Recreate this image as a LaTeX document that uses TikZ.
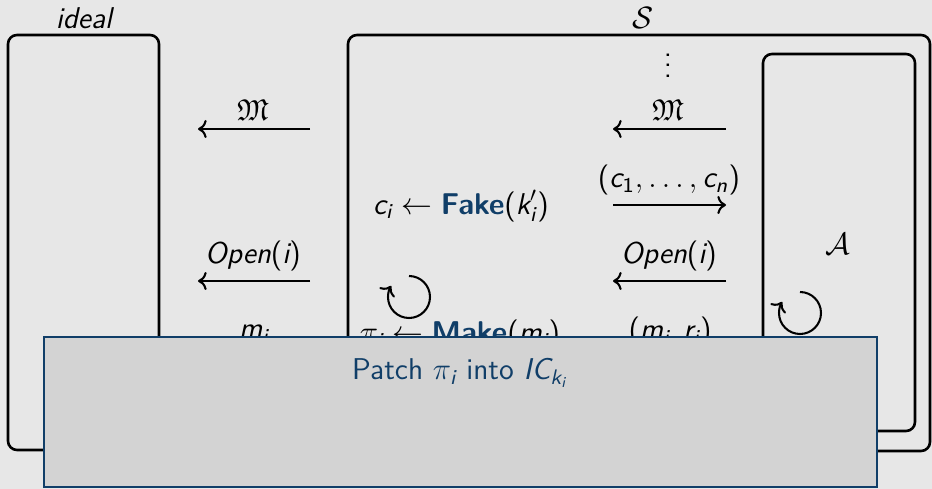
\documentclass[tikz,border=0pt]{standalone}
\usepackage{amsmath,amssymb}
\usetikzlibrary{arrows.meta,calc}
\definecolor{bgc}{RGB}{231,231,231}
\definecolor{ovlc}{RGB}{211,211,211}
\definecolor{navy}{RGB}{16,62,104}
\newcommand{\sv}[1]{\text{\sffamily\itshape #1}}
\newcommand{\su}[1]{\text{\sffamily #1}}
\newcommand{\kw}[1]{\text{\sffamily\bfseries\color{navy}#1}}
\tikzset{
  party/.style={draw=black, line width=1pt, rounded corners=3.5pt},
  msg/.style={draw=black, line width=0.8pt, ->},
  lbl/.style={inner sep=0pt, font=\fontsize{11.7}{14}\selectfont\sffamily},
  loopc/.style={draw=black, line width=0.8pt, ->},
  overlaybox/.style={fill=ovlc, draw=navy, line width=1pt},
}
\begin{document}
\begin{tikzpicture}[x=0.389pt,y=-0.389pt]
\fill[bgc] (0,0) rectangle (932,489);
\useasboundingbox (0,0) rectangle (932,489);
% boxes
\draw[party] (8,35) rectangle (159,450);
\draw[party] (348,35) rectangle (930,451);
\draw[party] (763,54) rectangle (915,431);
% titles
\node[lbl] (tideal) at (84,18) {\itshape ideal};
\node[lbl] (tS) at (643,18) {$\mathcal{S}$};
\node[lbl] (tA) at (838,244) {$\mathcal{A}$};
\node[lbl] (vd) at (668,58) {$\vdots$};
% left column arrows
\coordinate (l1s) at (310,129); \coordinate (l1e) at (198,129);
\draw[msg] (l1s) -- (l1e);
\node[lbl] (lM) at (253,110) {$\mathfrak{M}$};
\coordinate (l2s) at (310,281); \coordinate (l2e) at (198,281);
\draw[msg] (l2s) -- (l2e);
\node[lbl] (lOpen) at (253,256) {$\sv{Open}\su{(}\sv{i}\su{)}$};
\node[lbl] (lm) at (254,334) {$\sv{m}_{\sv{i}}$};
% right column arrows
\coordinate (r1s) at (726,129); \coordinate (r1e) at (613,129);
\draw[msg] (r1s) -- (r1e);
\node[lbl] (rM) at (668,110) {$\mathfrak{M}$};
\coordinate (r2s) at (613,205); \coordinate (r2e) at (726,205);
\draw[msg] (r2s) -- (r2e);
\node[lbl] (rc) at (669,180) {$\su{(}\sv{c}_{\su{1}},\ldots,\sv{c}_{\sv{n}}\su{)}$};
\coordinate (r3s) at (726,281); \coordinate (r3e) at (613,281);
\draw[msg] (r3s) -- (r3e);
\node[lbl] (rOpen) at (669,256) {$\sv{Open}\su{(}\sv{i}\su{)}$};
\node[lbl] (rmr) at (670,332) {$\su{(}\sv{m}_{\sv{i}},\sv{r}_{\sv{i}}\su{)}$};
% simulator computations
\node[lbl] (fake) at (461,206) {$\sv{c}_{\sv{i}}\leftarrow\kw{Fake}\su{(}\sv{k}'_{\sv{i}}\su{)}$};
\node[lbl] (make) at (460,335) {$\pi_{\sv{i}}\leftarrow\kw{Make}\su{(}\sv{m}_{\sv{i}}\su{)}$};
% loops
\coordinate (lp1) at (409,297);
\draw[loopc] ($(lp1)+(0,-21)$) arc[start angle=-90, end angle=212, radius=21];
\coordinate (lp2) at (800,313);
\draw[loopc] ($(lp2)+(0,-21)$) arc[start angle=-90, end angle=212, radius=21];
% overlay
\draw[overlaybox] (44,337) rectangle (877,487);
\node[lbl, text=navy] (patch) at (460,373) {Patch $\pi_{\sv{i}}$ into $\sv{IC}_{\sv{k}_{\sv{i}}}$};
\end{tikzpicture}
\end{document}
